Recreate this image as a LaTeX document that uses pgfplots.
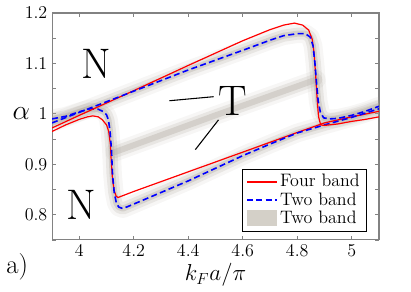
\documentclass[border=0pt]{standalone}
\usepackage{pgfplots}
\pgfplotsset{compat=1.18}
\usepackage{pgfplotstable}
\usetikzlibrary{calc}
\definecolor{bandgray}{RGB}{172,165,155}
\definecolor{legendgray}{RGB}{212,208,200}
\definecolor{axgray}{RGB}{130,130,130}

\pgfplotstableread{
x y
3.9 0.965
3.95 0.978
4.0 0.989
4.03 0.994
4.05 0.996
4.07 0.994
4.085 0.988
4.1 0.978
4.108 0.965
4.114 0.94
4.118 0.90
4.122 0.87
4.128 0.848
4.135 0.837
4.142 0.834
4.2 0.846
4.4 0.885
4.6 0.924
4.8 0.963
4.9 0.982
5.0 0.994
5.1 1.005
}\redA

\pgfplotstableread{
x y
3.9 0.972
4.0 0.997
4.2 1.046
4.4 1.096
4.6 1.145
4.7 1.167
4.75 1.176
4.79 1.180
4.82 1.176
4.842 1.166
4.855 1.148
4.862 1.12
4.868 1.073
4.873 1.03
4.878 0.995
4.886 0.978
4.9 0.977
4.95 0.980
5.0 0.985
5.05 0.989
5.1 0.994
}\redB

\pgfplotstableread{
x y
3.9 0.990
3.95 0.995
4.0 1.004
4.04 1.010
4.07 1.009
4.09 1.004
4.1 0.998
4.107 0.988
4.113 0.965
4.118 0.93
4.122 0.88
4.128 0.845
4.136 0.823
4.145 0.815
4.16 0.812
4.2 0.821
4.4 0.867
4.6 0.917
4.7 0.940
4.8 0.962
4.9 0.978
5.0 0.993
5.1 1.010
}\blueA

\pgfplotstableread{
x y
3.9 0.982
4.0 1.003
4.2 1.045
4.4 1.087
4.6 1.126
4.7 1.146
4.75 1.155
4.8 1.159
4.83 1.159
4.848 1.152
4.858 1.135
4.865 1.10
4.871 1.06
4.877 1.025
4.885 1.003
4.897 0.992
4.92 0.990
4.95 0.991
5.0 0.997
5.05 1.005
5.1 1.015
}\blueB

\pgfplotstableread{
x y
4.13 0.924
4.5 0.997
4.87 1.068
}\midband

\begin{document}
\begin{tikzpicture}
\begin{axis}[
  scale only axis,
  width=245pt, height=170pt,
  xmin=3.9, xmax=5.1, ymin=0.75, ymax=1.2,
  xtick={4,4.2,4.4,4.6,4.8,5},
  xticklabels={4,4.2,4.4,4.6,4.8,5},
  ytick={0.75,0.8,0.85,0.9,0.95,1,1.05,1.1,1.15,1.2},
  yticklabels={,0.8,,0.9,,1,,1.1,,1.2},
  tick align=inside,
  major tick length=3pt,
  tick style={axgray, line width=0.5pt},
  axis line style={axgray, line width=0.8pt},
  tick label style={font=\fontsize{13.5}{15}\selectfont},
  xlabel={$k_F a/\pi$},
  xlabel style={font=\fontsize{18}{20}\selectfont, yshift=2pt},
  ylabel={$\alpha$},
  ylabel style={at={(axis description cs:0,0.5556)}, rotate=-90, anchor=center, xshift=-23pt, font=\fontsize{21}{22}\selectfont},
  legend style={at={(axis description cs:1,0)}, anchor=south east, xshift=-9pt, yshift=6pt,
     line width=0.8pt, font=\fontsize{13.5}{15}\selectfont,
     inner xsep=3pt, inner ysep=2pt, row sep=-1pt},
  legend cell align=left,
  legend image code/.code={\draw[#1] (0cm,0cm) -- (0.78cm,0cm);},
  band/.style={no marks, line join=round, line cap=round, draw=bandgray, forget plot},
]
% gray two-band shading
\addplot[band, line width=14pt, opacity=0.10] table {\blueA};
\addplot[band, line width=9pt, opacity=0.20] table {\blueA};
\addplot[band, line width=4.5pt, opacity=0.33] table {\blueA};
\addplot[band, line width=14pt, opacity=0.10] table {\blueB};
\addplot[band, line width=9pt, opacity=0.20] table {\blueB};
\addplot[band, line width=4.5pt, opacity=0.33] table {\blueB};
\addplot[band, line width=14pt, opacity=0.10] table {\midband};
\addplot[band, line width=9pt, opacity=0.20] table {\midband};
\addplot[band, line width=4.5pt, opacity=0.33] table {\midband};
% four band
\addplot[red, line width=0.9pt, no marks, legend image code/.code={\draw[red, line width=1.2pt] (0cm,0cm) -- (0.78cm,0cm);}] table {\redA};
\addlegendentry{Four band}
% two band
\addplot[blue, line width=1.2pt, dash pattern=on 4.5pt off 2.5pt, no marks] table {\blueA};
\addlegendentry{Two band}
% legend entry for the grey two-band shading (draws nothing)
\addplot[draw=none, no marks, legend image code/.code={\fill[legendgray] (0cm,-0.19cm) rectangle (0.78cm,0.23cm);}] table {\midband};
\addlegendentry{Two band}
\addplot[red, line width=0.9pt, no marks, forget plot] table {\redB};
\addplot[blue, line width=1.2pt, dash pattern=on 4.5pt off 2.5pt, no marks, forget plot] table {\blueB};

\node[font=\fontsize{32}{32}\selectfont] at (axis cs:4.0625,1.1) {N};
\node[font=\fontsize{32}{32}\selectfont] at (axis cs:4.007,0.82) {N};
\node[font=\fontsize{32}{32}\selectfont] at (axis cs:4.5625,1.026) {T};
\draw[black, line width=0.8pt] (axis cs:4.331,1.026) -- (axis cs:4.493,1.034);
\draw[black, line width=0.8pt] (axis cs:4.511,0.988) -- (axis cs:4.426,0.929);
\end{axis}
\node[font=\fontsize{20}{22}\selectfont] at ($(current axis.south west)+(-26pt,-20pt)$) {a)};
\path ($(current axis.south west)+(-39pt,-36pt)$) rectangle ($(current axis.north east)+(24pt,9.75pt)$);
\end{tikzpicture}
\end{document}
